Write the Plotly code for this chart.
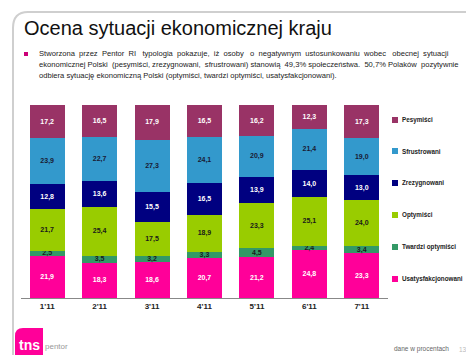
import plotly.graph_objects as go

categories = ["1'11", "2'11", "3'11", "4'11", "5'11", "6'11", "7'11"]
usatysfakcjonowani = [21.9, 18.3, 18.6, 20.7, 21.2, 24.8, 23.3]
twardzi_optymisci = [2.5, 3.5, 3.2, 3.3, 4.5, 2.4, 3.4]
optymisci = [21.7, 25.4, 17.5, 18.9, 23.3, 25.1, 24.0]
zrezygnowani = [12.8, 13.6, 15.5, 16.5, 13.9, 14.0, 13.0]
sfrustrowani = [23.9, 22.7, 27.3, 24.1, 20.9, 21.4, 19.0]
pesymisci = [17.2, 16.5, 17.9, 16.5, 16.2, 12.3, 17.3]

series = [
    ("Usatysfakcjonowani", usatysfakcjonowani, "#FF0099", "white"),
    ("Twardzi optymiści", twardzi_optymisci, "#339966", "#1a1a1a"),
    ("Optymiści", optymisci, "#99CC00", "#1a1a1a"),
    ("Zrezygnowani", zrezygnowani, "#000080", "white"),
    ("Sfrustrowani", sfrustrowani, "#3399CC", "#1a1a33"),
    ("Pesymiści", pesymisci, "#993366", "white"),
]

FONT = "Liberation Sans, Arial, sans-serif"

fig = go.Figure()
for name, vals, color, tcolor in series:
    fig.add_trace(go.Bar(
        x=categories, y=vals, name=name,
        marker=dict(color=color, line=dict(width=0)),
        text=["<b>" + f"{v:.1f}".replace(".", ",") + "</b>" for v in vals],
        textposition="inside", insidetextanchor="middle",
        textfont=dict(family=FONT, size=7, color=tcolor),
        constraintext="none", showlegend=False, hoverinfo="skip",
    ))

L, R, T, B = 13, 94, 97, 65
W, H = 474, 355
pw, ph = W - L - R, H - T - B

def px(x):
    return (x - L) / pw

def py(y):
    return (H - B - y) / ph

shapes = []
annotations = []

# manual legend
legend_y = [271, 239, 207, 175, 143, 112]
for (name, vals, color, tcolor), ly in zip(series, legend_y):
    shapes.append(dict(type="rect", xref="paper", yref="paper",
                       x0=px(384), x1=px(390), y0=py(ly + 3), y1=py(ly - 3),
                       fillcolor=color, line=dict(width=0)))
    annotations.append(dict(x=px(392.5), y=py(ly), xref="paper", yref="paper",
                            text=f"<b>{name}</b>", showarrow=False, xanchor="left",
                            yanchor="middle", font=dict(family=FONT, size=6.3, color="#222")))

# slide frame
shapes.append(dict(type="path", xref="paper", yref="paper", layer="below",
                   path=f"M {px(5)},{py(349)} L {px(5)},{py(20)} Q {px(5)},{py(4)} {px(20)},{py(4)} L {px(470)},{py(4)} L {px(470)},{py(349)} Z",
                   line=dict(color="#cfcfcf", width=2)))

# bullet
shapes.append(dict(type="rect", xref="paper", yref="paper",
                   x0=px(16), x1=px(20), y0=py(48), y1=py(44),
                   fillcolor="#CC0077", line=dict(width=0)))

annotations.append(dict(x=px(14), y=py(20), xref="paper", yref="paper",
                        text="Ocena sytuacji ekonomicznej kraju", showarrow=False,
                        xanchor="left", yanchor="middle",
                        font=dict(family=FONT, size=20, color="#111")))

NB = "\u00a0"
line1_words = "Stworzona przez Pentor RI typologia pokazuje, iż osoby o negatywnym ustosunkowaniu wobec obecnej sytuacji".split(" ")
line2_words = "ekonomicznej Polski (pesymiści, zrezygnowani, sfrustrowani) stanowią 49,3% społeczeństwa. 50,7% Polaków pozytywnie".split(" ")
line1 = ""
for i, w in enumerate(line1_words):
    if i:
        line1 += " " + NB + (NB if i % 4 == 0 else "")
    line1 += w
line2 = ""
for i, w in enumerate(line2_words):
    if i:
        line2 += " " + (NB if i % 2 == 0 else "")
    line2 += w
line3 = "odbiera sytuację ekonomiczną Polski (optymiści, twardzi optymiści, usatysfakcjonowani)."
for i, line in enumerate([line1, line2, line3]):
    annotations.append(dict(x=px(29), y=py(46 + 11 * i), xref="paper", yref="paper",
                            text=line, showarrow=False, xanchor="left", yanchor="middle",
                            font=dict(family=FONT, size=7.6, color="#222")))

# logo
shapes.append(dict(type="path", xref="paper", yref="paper",
                   path=f"M {px(7)},{py(347)} L {px(7)},{py(328)} Q {px(7)},{py(320)} {px(15)},{py(320)} L {px(35)},{py(320)} L {px(35)},{py(347)} Z",
                   fillcolor="#FF0099", line=dict(width=0)))
annotations.append(dict(x=px(9), y=py(337), xref="paper", yref="paper",
                        text="<b>tns</b>", showarrow=False, xanchor="left", yanchor="middle",
                        font=dict(family=FONT, size=14, color="white")))
annotations.append(dict(x=px(35), y=py(338), xref="paper", yref="paper",
                        text="pentor", showarrow=False, xanchor="left", yanchor="middle",
                        font=dict(family=FONT, size=8, color="#999")))
annotations.append(dict(x=px(443), y=py(341), xref="paper", yref="paper",
                        text="dane w procentach", showarrow=False, xanchor="right", yanchor="middle",
                        font=dict(family=FONT, size=6.5, color="#666")))
annotations.append(dict(x=px(455), y=py(341), xref="paper", yref="paper",
                        text="13", showarrow=False, xanchor="center", yanchor="middle",
                        font=dict(family=FONT, size=6.5, color="#bbb")))

fig.update_layout(
    barmode="stack", bargap=0.33,
    width=W, height=H,
    margin=dict(l=L, r=R, t=T, b=B, pad=0),
    paper_bgcolor="white", plot_bgcolor="white",
    uniformtext=dict(minsize=7, mode="show"),
    xaxis=dict(showline=True, linecolor="#888", linewidth=1, ticks="",
               tickfont=dict(family=FONT, size=8, color="#222"),
               showgrid=False, fixedrange=True),
    yaxis=dict(range=[0, 100], visible=False, showgrid=False, fixedrange=True),
    shapes=shapes, annotations=annotations, showlegend=False,
)
fig.update_xaxes(tickprefix="<b>", ticksuffix="</b>")

fig.write_html("out.html")
